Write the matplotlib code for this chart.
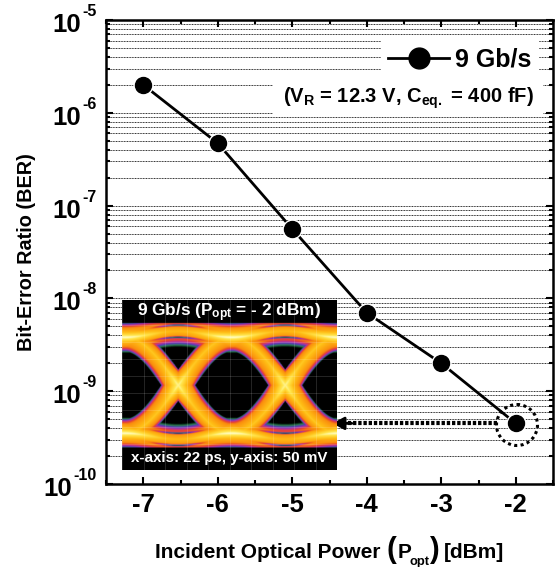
import matplotlib
matplotlib.use("Agg")
import matplotlib.pyplot as plt
import matplotlib.ticker as ticker
from matplotlib.colors import LinearSegmentedColormap
from matplotlib.lines import Line2D
import numpy as np

power = [-7, -6, -5, -4, -3, -2]
ber = [2.0e-6, 4.7e-7, 5.6e-8, 7.0e-9, 2.0e-9, 4.5e-10]
x_labels = ["-7", "-6", "-5", "-4", "-3", "-2"]
decades = [-10, -9, -8, -7, -6, -5]

W, H = 557, 567
plt.rcParams["font.family"] = ["Liberation Sans", "DejaVu Sans"]
plt.rcParams["font.weight"] = "bold"
plt.rcParams["mathtext.fontset"] = "custom"
plt.rcParams["mathtext.rm"] = "Liberation Sans:bold"
plt.rcParams["mathtext.default"] = "rm"


def box(l, t, r, b):
    return [l / W, 1 - b / H, (r - l) / W, (b - t) / H]


# eye picture: pixel distance to the nearest trace, coloured like the scope display
def eye_image():
    px, py = np.meshgrid(np.arange(0, 215, 0.5), np.arange(-85, 85, 0.5))
    period = 107.0
    phase = np.mod(px - 56.0 + period / 2, period) - period / 2
    a = 48.0
    curve = a * np.sin(np.pi * phase / period)
    norm = np.sqrt(1 + (a * np.pi / period * np.cos(np.pi * phase / period)) ** 2)
    d_trace = np.minimum(np.abs(py - curve), np.abs(py + curve)) / norm
    # the band is thinner on the side facing the small triangles
    above = np.abs(py) > np.abs(curve)
    d_trace = np.where(above, d_trace * 1.6, d_trace)
    rail = a + 3 + 3 * np.cos(2 * np.pi * phase / period)
    d_rail = np.minimum(np.abs(py - rail), np.abs(py + rail))
    v_trace = 0.68 * np.clip(1 - d_trace / 14.5, 0, 1) ** 0.8
    v_trace = np.where(v_trace > 0, v_trace + 0.25 * np.exp(-(phase / 14.0) ** 2 - (py / 16.0) ** 2), 0)
    # rails are brightest at the eye centre
    bright = 0.8 - 0.2 * np.cos(2 * np.pi * phase / period)
    v_rail = np.clip(1 - d_rail / 16.0, 0, 1) ** 1.3 * bright
    v = np.maximum(np.clip(v_trace, 0, 1), v_rail)
    # red streaks either side of the rail near the crossings
    streak = np.exp(-((d_rail - 6.0) / 1.1) ** 2) * np.cos(np.pi * phase / period) ** 2
    v = np.where(d_rail < 11, v - 0.3 * streak, v)
    # black bands behind the captions
    v[np.abs(py) > 62] = 0
    return np.clip(v, 0, 1)


eye_cmap = LinearSegmentedColormap.from_list("eye", [
    (0.0, (0, 0, 0)), (0.012, (0.03, 0.2, 0.1)), (0.05, (0.2, 0.5, 0.35)),
    (0.09, (0.3, 0.25, 0.7)), (0.15, (0.7, 0.2, 0.65)), (0.22, (0.9, 0.25, 0.2)),
    (0.32, (0.98, 0.55, 0.05)), (0.62, (1, 0.74, 0.08)), (0.85, (1, 0.9, 0.3)),
    (1.0, (1, 1, 0.8))])

fig = plt.figure(figsize=(W / 100, H / 100), dpi=100)
ax = fig.add_axes(box(106, 20, 553, 484))

ax.set_yscale("log")
ax.set_xlim(-7.5, -1.5)
ax.set_ylim(1e-10, 1e-5)
ax.plot(power, ber, color="black", lw=2, zorder=3)
# white ring gives the small gap between line and marker
ax.plot(power, ber, ls="none", marker="o", ms=14.5, mfc="white", mec="none", zorder=4)
ax.plot(power, ber, ls="none", marker="o", ms=11.5, color="black", zorder=5)

ax.set_xticks(power)
ax.set_xticklabels(x_labels)
ax.xaxis.set_minor_locator(ticker.MultipleLocator(0.5))
ax.set_yticks([10.0 ** d for d in decades])
ax.set_yticklabels([])
ax.yaxis.set_minor_locator(ticker.LogLocator(base=10, subs=range(2, 10), numticks=12))
ax.yaxis.set_minor_formatter(ticker.NullFormatter())
ax.tick_params(which="major", direction="in", top=True, right=True, length=5.2, width=1.5, labelsize=18.5)
ax.tick_params(which="minor", direction="in", top=True, right=True, length=2.8, width=1.5)
ax.tick_params(axis="x", which="major", pad=6.5)
ax.grid(True, which="both", axis="y", color="black", lw=0.6, ls=(0, (1.1, 0.8)))
ax.set_axisbelow(True)
for s in ax.spines.values():
    s.set_linewidth(1.8)

# y tick labels: plain hyphen in the exponent, as in the original
for d in decades:
    exp = str(d)
    exp_w = (0.333 + 0.556 * (len(exp) - 1)) * 11.5 * 100 / 72
    ax.annotate(exp, xy=(-9 / 447, 10.0 ** d), xycoords=ax.get_yaxis_transform(), xytext=(0, 2.9),
                textcoords="offset points", fontsize=11.5, ha="right", va="baseline", annotation_clip=False)
    ax.annotate("10", xy=(-9 / 447, 10.0 ** d), xycoords=ax.get_yaxis_transform(),
                xytext=(-exp_w * 72 / 100 - 1.2, -8.6), textcoords="offset points", fontsize=18.5,
                ha="right", va="baseline", annotation_clip=False)

ax.set_ylabel("Bit-Error Ratio (BER)", fontsize=14.3, fontweight="bold")
ax.yaxis.set_label_coords(-70 / 447, 0.5)

fig.text(155 / W, 1 - 558 / H, "Incident Optical Power", fontsize=15, ha="left", va="baseline")
fig.text(391 / W, 1 - 558 / H, "(", fontsize=21, ha="center", va="baseline")
fig.text(398 / W, 1 - 558 / H, "P", fontsize=15, ha="left", va="baseline")
fig.text(410 / W, 1 - 565 / H, "opt", fontsize=9.3, ha="left", va="baseline")
fig.text(434 / W, 1 - 558 / H, ")", fontsize=21, ha="center", va="baseline")
fig.text(444 / W, 1 - 558 / H, "[dBm]", fontsize=15, ha="left", va="baseline")

# legend hides the grid behind it
handle = Line2D([], [], color="black", lw=2, marker="o", ms=15)
ax.legend([handle], ["9 Gb/s"], loc="center", bbox_to_anchor=(460 / W, 1 - 59.5 / H),
          bbox_transform=fig.transFigure, fontsize=18, frameon=True, facecolor="white", edgecolor="none",
          framealpha=1, fancybox=False, handlelength=2.44, handletextpad=0.24, borderpad=0.3, borderaxespad=0)

ov = fig.add_axes([0, 0, 1, 1], facecolor="none")
ov.set_xlim(0, W)
ov.set_ylim(H, 0)
ov.axis("off")
ov.fill_between([273, 543], 78, 115, color="white", lw=0, zorder=1)
ov.text(408, 98, "(V$_{\\mathregular{R}}$ = 12.3 V, C$_{\\mathregular{eq.}}$ = 400 fF)", fontsize=14.5,
        va="center", ha="center", zorder=3)
ov.add_patch(plt.Circle((517, 425), 20.5, fill=False, color="black", lw=2.2, ls=(0, (1, 1.1)), zorder=3))

# dotted arrow from the last point back to the eye picture
ax.plot([-2.25, -4.3], [ber[-1], ber[-1]], color="black", lw=3, ls=(0, (0.8, 0.45)), zorder=3)
ax.annotate("", xy=(-4.46, ber[-1]), xytext=(-4.2, ber[-1]),
            arrowprops=dict(arrowstyle="-|>,head_length=0.7,head_width=0.38", color="black", lw=2,
                            shrinkA=0, shrinkB=0), zorder=3)

# inset with the eye diagram
ins = fig.add_axes(box(122, 300, 337, 470))
ins.imshow(eye_image(), cmap=eye_cmap, vmin=0, vmax=1, aspect="auto", extent=[0, 215, 170, 0],
           interpolation="bilinear")
for gx in np.arange(0, 215, 21.5):
    ins.axvline(gx, color="white", lw=0.5, alpha=0.2)
for gy in np.arange(25, 152, 17):
    ins.axhline(gy, color="white", lw=0.5, alpha=0.2)
ins.set_xlim(0, 215)
ins.set_ylim(170, 0)
ins.axis("off")
ins.text(107, 13, "9 Gb/s (P$_{\\mathregular{opt}}$ = - 2 dBm)", color="white", fontsize=12.4, ha="center", va="center")
ins.text(107, 158, "x-axis: 22 ps, y-axis: 50 mV", color="white", fontsize=10.9, ha="center", va="center")

plt.savefig("out.png", dpi=100)
